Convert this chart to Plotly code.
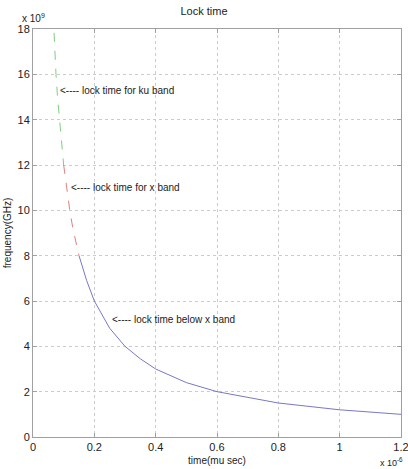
import plotly.graph_objects as go

# time in units of 1e-6 s, frequency in units of 1e9 Hz
t_ku = [0.055, 0.0667, 0.075, 0.080, 0.090, 0.100]
f_ku = [21.8, 18.0, 16.0, 15.0, 13.3, 12.0]

t_x = [0.100, 0.110, 0.120, 0.130, 0.140, 0.150]
f_x = [12.0, 10.9, 10.0, 9.2, 8.6, 8.0]

t_below = [0.150, 0.175, 0.200, 0.250, 0.300, 0.350, 0.400, 0.450, 0.500, 0.600, 0.800, 1.000, 1.200]
f_below = [8.0, 6.9, 6.0, 4.8, 4.0, 3.45, 3.0, 2.7, 2.4, 2.0, 1.5, 1.2, 1.0]

x_ticks = [0, 0.2, 0.4, 0.6, 0.8, 1, 1.2]
x_tick_labels = ["0", "0.2", "0.4", "0.6", "0.8", "1", "1.2"]
y_ticks = [0, 2, 4, 6, 8, 10, 12, 14, 16, 18]

FONT = "Liberation Sans Narrow, Arial Narrow, Liberation Sans, Arial, sans-serif"

fig = go.Figure()
fig.add_trace(go.Scatter(x=t_ku, y=f_ku, mode="lines",
                         line=dict(color="#7fcf7f", width=1, dash="dash")))
fig.add_trace(go.Scatter(x=t_x, y=f_x, mode="lines",
                         line=dict(color="#e08080", width=1, dash="dash")))
fig.add_trace(go.Scatter(x=t_below, y=f_below, mode="lines",
                         line=dict(color="#7878c8", width=1)))

axis_common = dict(showline=True, linecolor="#a0a0a0", linewidth=1, mirror="ticks",
                   ticks="inside", ticklen=4, tickcolor="#a0a0a0",
                   showgrid=True, gridcolor="#cccccc", griddash="dot", gridwidth=1,
                   zeroline=False, ticklabeloverflow="allow", automargin=False,
                   tickfont=dict(family=FONT, size=11, color="#222"))

fig.update_xaxes(range=[0, 1.2], tickvals=x_ticks, ticktext=x_tick_labels,
                 title=dict(text="time(mu sec)", font=dict(family=FONT, size=10, color="#222"),
                            standoff=4),
                 **axis_common)
fig.update_yaxes(range=[0, 18], tickvals=y_ticks,
                 title=dict(text="frequency(GHz)", font=dict(family=FONT, size=10, color="#222"),
                            standoff=4),
                 **axis_common)

annos = [
    dict(x=0.083, y=15.3, text="<---- lock time for ku band"),
    dict(x=0.117, y=11.0, text="<---- lock time for x band"),
    dict(x=0.25, y=5.2, text="<---- lock time below x band"),
]
for a in annos:
    fig.add_annotation(x=a["x"], y=a["y"], text=a["text"], showarrow=False,
                       xanchor="left", yanchor="middle",
                       font=dict(family=FONT, size=10, color="#222"))

fig.add_annotation(xref="paper", yref="paper", x=0.0, y=1.0, yshift=3,
                   text="x 10<sup>9</sup>", showarrow=False, xanchor="center", yanchor="bottom",
                   font=dict(family=FONT, size=10, color="#222"))
fig.add_annotation(xref="paper", yref="paper", x=1.0, y=0.0, yshift=-17, xshift=4,
                   text="x 10<sup>-6</sup>", showarrow=False, xanchor="right", yanchor="top",
                   font=dict(family=FONT, size=9, color="#222"))

fig.update_layout(
    width=408, height=469,
    margin=dict(l=33, r=7, t=29, b=32),
    paper_bgcolor="white", plot_bgcolor="white",
    showlegend=False,
    title=dict(text="Lock time", x=0.5, xanchor="center", y=0.985, yanchor="top",
               font=dict(family=FONT, size=11, color="#222")),
)

fig.write_html("out.html")
